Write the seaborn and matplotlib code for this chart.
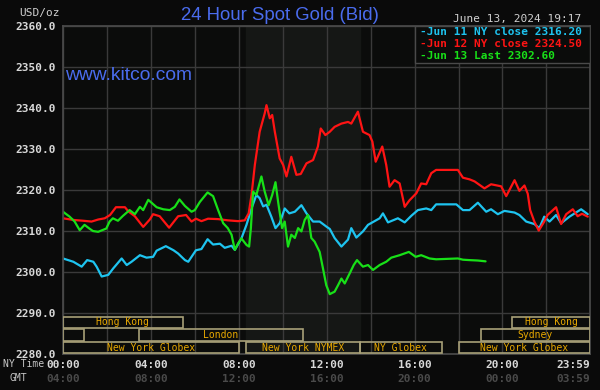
import numpy as np
import pandas as pd
import seaborn as sns
import matplotlib
matplotlib.use("Agg")
import matplotlib.pyplot as plt
from matplotlib.patches import Rectangle

# Horas (horário de NY) e preços, uma lista por dia
h_jun11 = [0.0, 0.47, 0.85, 1.1, 1.38, 1.53, 1.76, 2.06, 2.29, 2.67, 2.9, 3.12, 3.5, 3.8, 4.1,
           4.26, 4.68, 5.03, 5.24, 5.55, 5.7, 6.05, 6.3, 6.58, 6.83, 7.14, 7.36, 7.67, 7.82, 8.12,
           8.35, 8.58, 8.8, 8.95, 9.11, 9.26, 9.48, 9.67, 9.86, 10.09, 10.3, 10.55, 10.85, 11.08,
           11.38, 11.68, 11.98, 12.14, 12.36, 12.67, 12.97, 13.12, 13.35, 13.65, 13.88, 14.41,
           14.56, 14.79, 15.24, 15.55, 15.85, 16.15, 16.53, 16.76, 16.98, 17.9, 18.2, 18.5, 18.88,
           19.26, 19.48, 19.79, 20.09, 20.55, 20.77, 21.08, 21.45, 21.68, 21.9, 22.14, 22.44,
           22.67, 23.05, 23.58, 23.88]
p_jun11 = [2303.3, 2302.5, 2301.3, 2302.9, 2302.5, 2301.3, 2298.9, 2299.3, 2300.9, 2303.3, 2301.7,
           2302.5, 2304.1, 2303.5, 2303.7, 2305.2, 2306.3, 2305.3, 2304.5, 2302.9, 2302.5, 2305.3,
           2305.6, 2308.0, 2306.7, 2306.9, 2305.9, 2306.4, 2305.4, 2308.2, 2311.5, 2315.5, 2318.8,
           2318.0, 2316.0, 2316.4, 2313.5, 2310.7, 2311.9, 2315.5, 2314.3, 2314.7, 2316.3, 2314.3,
           2312.3, 2312.3, 2311.1, 2310.5, 2308.3, 2306.2, 2307.9, 2310.7, 2308.4, 2309.9, 2311.5,
           2313.1, 2314.3, 2312.1, 2313.1, 2312.1, 2313.7, 2315.1, 2315.5, 2315.1, 2316.5, 2316.5,
           2315.1, 2315.1, 2316.9, 2314.7, 2315.3, 2314.1, 2314.9, 2314.5, 2313.9, 2312.3, 2311.7,
           2310.7, 2313.5, 2312.3, 2313.9, 2311.9, 2313.5, 2315.3, 2314.1]

h_jun12 = [0.0, 0.47, 0.92, 1.3, 1.6, 1.9, 2.14, 2.41, 2.82, 2.97, 3.27, 3.65, 3.95, 4.1, 4.4,
           4.83, 5.24, 5.6, 5.85, 6.05, 6.3, 6.6, 7.06, 7.5, 7.97, 8.27, 8.45, 8.58, 8.73, 8.95,
           9.18, 9.26, 9.41, 9.52, 9.64, 9.86, 10.02, 10.17, 10.39, 10.62, 10.82, 11.08, 11.38,
           11.6, 11.73, 11.94, 12.14, 12.36, 12.67, 12.97, 13.12, 13.42, 13.65, 13.95, 14.08,
           14.23, 14.53, 14.71, 14.86, 15.09, 15.32, 15.55, 15.77, 16.08, 16.3, 16.53, 16.76,
           16.98, 17.97, 18.2, 18.5, 18.73, 19.18, 19.48, 19.94, 20.17, 20.55, 20.77, 21.0, 21.15,
           21.26, 21.45, 21.65, 21.9, 22.05, 22.44, 22.67, 22.9, 23.2, 23.42, 23.62, 23.88]
p_jun12 = [2313.1, 2312.7, 2312.5, 2312.3, 2312.8, 2313.1, 2313.9, 2315.8, 2315.8, 2314.8, 2313.6,
           2311.0, 2312.8, 2314.1, 2313.6, 2310.8, 2313.6, 2313.9, 2312.3, 2313.0, 2312.4, 2313.0,
           2312.9, 2312.6, 2312.4, 2312.6, 2314.3, 2318.8, 2326.1, 2334.2, 2338.7, 2340.7, 2337.5,
           2338.3, 2334.2, 2327.7, 2326.1, 2323.3, 2328.1, 2323.7, 2323.9, 2326.5, 2327.3, 2330.6,
           2335.0, 2333.4, 2334.2, 2335.4, 2336.2, 2336.6, 2336.2, 2339.1, 2334.2, 2333.4, 2331.8,
           2326.9, 2330.6, 2326.1, 2320.8, 2322.4, 2321.6, 2315.9, 2317.5, 2319.2, 2321.6, 2321.4,
           2324.1, 2324.9, 2324.9, 2323.0, 2322.6, 2322.1, 2320.4, 2321.4, 2320.9, 2318.5, 2322.4,
           2319.8, 2321.1, 2319.1, 2315.1, 2312.3, 2310.1, 2312.3, 2313.9, 2315.8, 2311.7, 2314.1,
           2315.3, 2313.6, 2314.2, 2313.5]

h_jun13 = [0.0, 0.3, 0.53, 0.76, 0.98, 1.2, 1.36, 1.6, 1.97, 2.12, 2.27, 2.5, 2.73, 3.03, 3.27,
           3.5, 3.65, 3.88, 4.26, 4.56, 4.86, 5.09, 5.3, 5.55, 5.85, 6.0, 6.23, 6.58, 6.83, 7.06,
           7.29, 7.5, 7.67, 7.82, 7.97, 8.12, 8.35, 8.47, 8.55, 8.65, 8.8, 9.03, 9.18, 9.36, 9.52,
           9.67, 9.79, 9.97, 10.09, 10.24, 10.39, 10.55, 10.7, 10.85, 11.0, 11.15, 11.3, 11.45,
           11.68, 11.83, 11.98, 12.14, 12.36, 12.52, 12.67, 12.82, 13.05, 13.23, 13.38, 13.65,
           13.88, 14.11, 14.41, 14.71, 14.94, 15.32, 15.74, 16.05, 16.3, 16.68, 16.98, 17.97,
           18.2, 18.5, 18.88, 19.23]
p_jun13 = [2314.7, 2313.5, 2312.3, 2310.2, 2311.5, 2310.6, 2310.0, 2309.8, 2310.6, 2312.3, 2313.1,
           2312.5, 2313.7, 2315.1, 2314.1, 2315.9, 2315.1, 2317.6, 2315.8, 2315.3, 2315.1, 2315.9,
           2317.7, 2316.1, 2314.7, 2315.1, 2317.1, 2319.4, 2318.5, 2315.1, 2311.9, 2310.7, 2309.1,
           2305.4, 2307.0, 2308.2, 2306.6, 2306.2, 2310.7, 2319.6, 2318.8, 2323.3, 2319.6, 2316.3,
           2318.8, 2321.9, 2317.1, 2310.7, 2312.3, 2306.2, 2309.1, 2308.3, 2310.7, 2309.9, 2312.7,
           2313.9, 2308.3, 2307.4, 2304.9, 2300.9, 2296.8, 2294.6, 2295.2, 2296.8, 2298.4, 2297.2,
           2299.7, 2301.7, 2302.9, 2301.3, 2301.7, 2300.5, 2301.7, 2302.5, 2303.5, 2304.1, 2304.9,
           2303.7, 2304.1, 2303.3, 2303.1, 2303.3, 2303.0, 2302.9, 2302.8, 2302.6]

dias = ["Jun 11", "Jun 12", "Jun 13"]
legenda = ["-Jun 11 NY close 2316.20", "-Jun 12 NY close 2324.50", "-Jun 13 Last 2302.60"]
cores = {"Jun 11": "#1ec4f0", "Jun 12": "#ff1414", "Jun 13": "#18e018"}

# Sessões de mercado (nome, início, fim em horas NY, linha da faixa inferior)
sess_nome = ["Hong Kong", "", "London", "New York Globex", "New York NYMEX", "NY Globex",
             "New York Globex", "Sydney", "Hong Kong"]
sess_ini = [0, 0, 3.45, 0, 8.33, 13.5, 18.0, 19.0, 20.45]
sess_fim = [5.45, 0.97, 10.9, 8.0, 13.5, 17.25, 23.983, 23.983, 23.983]
sess_linha = [0, 1, 1, 2, 2, 2, 2, 1, 0]
faixas = [(2286.3, 2289.1), (2283.1, 2286.1), (2280.2, 2282.9)]

ticks_h = [0, 4, 8, 12, 16, 20, 23.983]
ticks_ny = ["00:00", "04:00", "08:00", "12:00", "16:00", "20:00", "23:59"]
ticks_gmt = ["04:00", "08:00", "12:00", "16:00", "20:00", "00:00", "03:59"]

df = pd.concat([
    pd.DataFrame({"hora": h_jun11, "preco": p_jun11, "dia": "Jun 11"}),
    pd.DataFrame({"hora": h_jun12, "preco": p_jun12, "dia": "Jun 12"}),
    pd.DataFrame({"hora": h_jun13, "preco": p_jun13, "dia": "Jun 13"}),
])

fundo = "#0a0a0a"
fundo_ax = "#0b0c0b"
sns.set_theme(style="dark", rc={"figure.facecolor": fundo, "axes.facecolor": fundo_ax,
                                "axes.edgecolor": "#4a4a4a"})
plt.rcParams["font.family"] = ["DejaVu Sans Mono", "DejaVu Sans"]

fig = plt.figure(figsize=(6, 3.9), dpi=100)
ax = fig.add_axes([63 / 600, 1 - 354 / 390, 527 / 600, 328 / 390])
ax.set_facecolor(fundo_ax)

# Faixa sombreada do pregão NYMEX
ax.axvspan(8.33, 13.5, color="#151715", zorder=0)

sns.lineplot(data=df, x="hora", y="preco", hue="dia", hue_order=dias, palette=cores,
             estimator=None, sort=True, legend=False, linewidth=1.6, ax=ax, zorder=2)

ax.set_xlim(0, 23.983)
ax.set_ylim(2280, 2360)
ax.set_xticks(np.arange(0, 24, 2), minor=True)
ax.set_xticks(ticks_h, labels=ticks_ny)
ax.set_yticks(np.arange(2280, 2361, 10), labels=[f"{v:.1f}" for v in np.arange(2280, 2361, 10)])
ax.grid(True, which="both", color="#3a3a3a", linewidth=1)
ax.set_axisbelow(True)
ax.tick_params(which="both", length=0)
ax.tick_params(axis="y", pad=5, labelsize=8, labelcolor="#d8d8d8")
ax.tick_params(axis="x", pad=4, labelsize=8, labelcolor="#d8d8d8")
for t in ax.get_xticklabels() + ax.get_yticklabels():
    t.set_fontweight("bold")
ax.get_xticklabels()[-1].set_horizontalalignment("right")
ax.set_xlabel("")
ax.set_ylabel("")
for s in ax.spines.values():
    s.set_color("#4a4a4a")

# Linha GMT abaixo dos rótulos de NY
for i, (h, lab) in enumerate(zip(ticks_h, ticks_gmt)):
    ax.text(h, -0.075, lab, transform=ax.get_xaxis_transform(), ha="right" if i == 6 else "center",
            va="center", fontsize=8, fontweight="bold", color="#4a4a4a")
fig.text(3 / 600, 1 - 364 / 390, "NY Time", fontsize=7, color="#c8c8c8", va="center")
fig.text(10 / 600, 1 - 378 / 390, "GMT", fontsize=7, color="#c8c8c8", va="center")

# Caixas das sessões de mercado
for nome, ini, fim, lin in zip(sess_nome, sess_ini, sess_fim, sess_linha):
    y0, y1 = faixas[lin]
    ax.add_patch(Rectangle((ini, y0), fim - ini, y1 - y0, fill=False, edgecolor="#a8a078",
                           linewidth=1.2, zorder=3))
    if nome:
        ax.text((ini + fim) / 2, (y0 + y1) / 2, nome, ha="center", va="center", fontsize=7,
                color="#e8a800", zorder=4)

# Legenda em caixa no canto superior direito
ax.add_patch(Rectangle((16.0, 2351), 7.983, 9, facecolor=fundo_ax, edgecolor="#4a4a4a",
                       linewidth=1, zorder=5))
for i, (dia, txt) in enumerate(zip(dias, legenda)):
    ax.text(16.25, 2358.5 - i * 2.9, txt, ha="left", va="center", fontsize=8, fontweight="bold",
            color=cores[dia], zorder=6)

fig.text(0.467, 1 - 15 / 390, "24 Hour Spot Gold (Bid)", ha="center", va="center",
         fontsize=13.4, color="#4a6cee", family="Liberation Sans")
ax.text(0.004, 0.85, "www.kitco.com", transform=ax.transAxes, ha="left", va="center",
        fontsize=13.9, color="#4a6cee", family="Liberation Sans")
fig.text(453 / 600, 1 - 19 / 390, "June 13, 2024 19:17", ha="left", va="center",
         fontsize=8, color="#d0d0d0")
fig.text(19 / 600, 1 - 13 / 390, "USD/oz", ha="left", va="center", fontsize=8,
         color="#d0d0d0")

fig.savefig("out.png", dpi=100, facecolor=fundo)
